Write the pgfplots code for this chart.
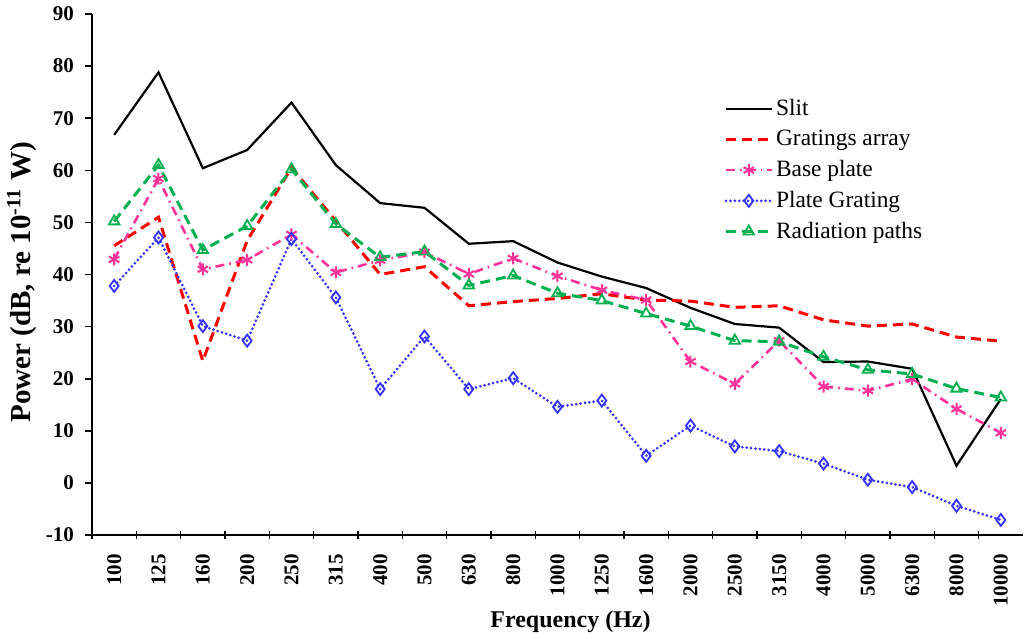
\documentclass[border=0pt]{standalone}
\usepackage{fontspec}
\setmainfont{Liberation Serif}
\usepackage{pgfplots}
\usepackage{pgfplotstable}
\pgfplotsset{compat=1.18}
\definecolor{cslit}{RGB}{0,0,0}
\definecolor{cgrat}{RGB}{255,0,0}
\definecolor{cbase}{RGB}{255,51,153}
\definecolor{cplate}{RGB}{51,51,255}
\definecolor{crad}{RGB}{0,176,80}
\pgfplotstableread{
idx slit grat base plate rad
0 66.8 45.5 42.9 37.8 50.2
1 78.8 51.0 58.4 47.1 61.0
2 60.4 23.4 41.0 30.1 44.7
3 63.9 46.5 42.8 27.3 49.3
4 73.0 60.5 47.7 46.8 60.2
5 61.0 50.3 40.4 35.6 49.7
6 53.7 40.0 42.7 18.0 43.3
7 52.8 41.5 44.3 28.1 44.4
8 45.9 34.0 40.1 18.0 37.9
9 46.4 34.8 43.1 20.1 39.8
10 42.3 35.4 39.7 14.6 36.4
11 39.6 36.3 37.0 15.8 35.0
12 37.4 35.1 35.1 5.2 32.5
13 33.6 34.9 23.3 11.0 30.1
14 30.5 33.7 19.0 7.0 27.3
15 29.8 34.0 27.3 6.1 27.1
16 23.2 31.3 18.5 3.7 24.2
17 23.3 30.1 17.7 0.6 21.7
18 21.9 30.5 19.9 -0.8 20.9
19 3.3 28.0 14.2 -4.4 18.1
20 16.1 27.2 9.6 -7.1 16.4
}\datatable
\begin{document}
\begin{tikzpicture}
\begin{axis}[name=ax,
  scale only axis, width=465.5pt, height=260.5pt,
  xmin=-0.5, xmax=20.5, ymin=-10, ymax=90,
  axis x line*=bottom, axis y line*=left,
  axis line style={-, line width=0.8pt},
  xtick={0,...,20},
  xticklabels={100,125,160,200,250,315,400,500,630,800,1000,1250,1600,2000,2500,3150,4000,5000,6300,8000,10000},
  minor xtick={-0.5,0.5,...,19.5},
  ytick={-10,0,...,90},
  yticklabels={-10,0,10,20,30,40,50,60,70,80,90},
  tick align=outside,
  major tick length=3.5pt, minor tick length=4pt,
  major x tick style={draw=none},
  minor x tick style={black, line width=0.8pt, yshift=2pt},
  major y tick style={black, line width=0.8pt},
  x tick label style={rotate=90, anchor=east, font=\bfseries\fontsize{10.5}{12}\selectfont, xshift=-2.5pt},
  y tick label style={font=\bfseries\fontsize{10.5}{12}\selectfont, xshift=-2pt},
  xlabel={Frequency (Hz)},
  ylabel={Power (dB, re 10\textsuperscript{-11} W)},
  xlabel style={at={([xshift=6.5pt,yshift=-43.5pt]axis description cs:0.5,0)}, anchor=center, font=\bfseries\fontsize{12}{14}\selectfont},
  ylabel style={at={([xshift=-35pt]axis description cs:0,0.485)}, rotate=0, anchor=center, font=\bfseries\fontsize{14.5}{16}\selectfont},
  legend style={draw=none, fill=none, at={(axis description cs:0.679,0.842)}, anchor=north west,
    font=\fontsize{11.7}{13}\selectfont, row sep=2.75pt, inner sep=0pt,
    nodes={inner sep=1.5pt}},
  legend cell align=left,
  legend image code/.code={\draw[mark repeat=2,mark phase=2,#1] plot coordinates {(0cm,0cm)(0.4cm,0cm)(0.8cm,0cm)};},
]
\addplot[cslit, line width=1.1pt, mark=none] table[x=idx, y=slit] {\datatable};
\addlegendentry{Slit}
\addplot[cgrat, line width=1.5pt, dash pattern=on 5pt off 3pt, mark=none] table[x=idx, y=grat] {\datatable};
\addlegendentry{Gratings array}
\addplot[cbase, line width=1.3pt, dash pattern=on 4.5pt off 2.5pt on 0.8pt off 2.5pt, mark=asterisk, mark size=3pt, mark options={solid, line width=1pt}] table[x=idx, y=base] {\datatable};
\addlegendentry{Base plate}
\addplot[cplate, line width=1.5pt, line cap=round, dash pattern=on 0pt off 2.2pt, mark=diamond, mark size=3pt, mark options={solid, line width=0.9pt}] table[x=idx, y=plate] {\datatable};
\addlegendentry{Plate Grating}
\addplot[crad, line width=1.5pt, dash pattern=on 5pt off 3pt, mark=triangle, mark size=3pt, mark options={solid, line width=0.9pt}] table[x=idx, y=rad] {\datatable};
\addlegendentry{Radiation paths}
\end{axis}
\pgfresetboundingbox
\path[use as bounding box] ([xshift=-46pt,yshift=-51.5pt]ax.south west) rectangle ([xshift=0.5pt,yshift=7pt]ax.north east);
\end{tikzpicture}
\end{document}
